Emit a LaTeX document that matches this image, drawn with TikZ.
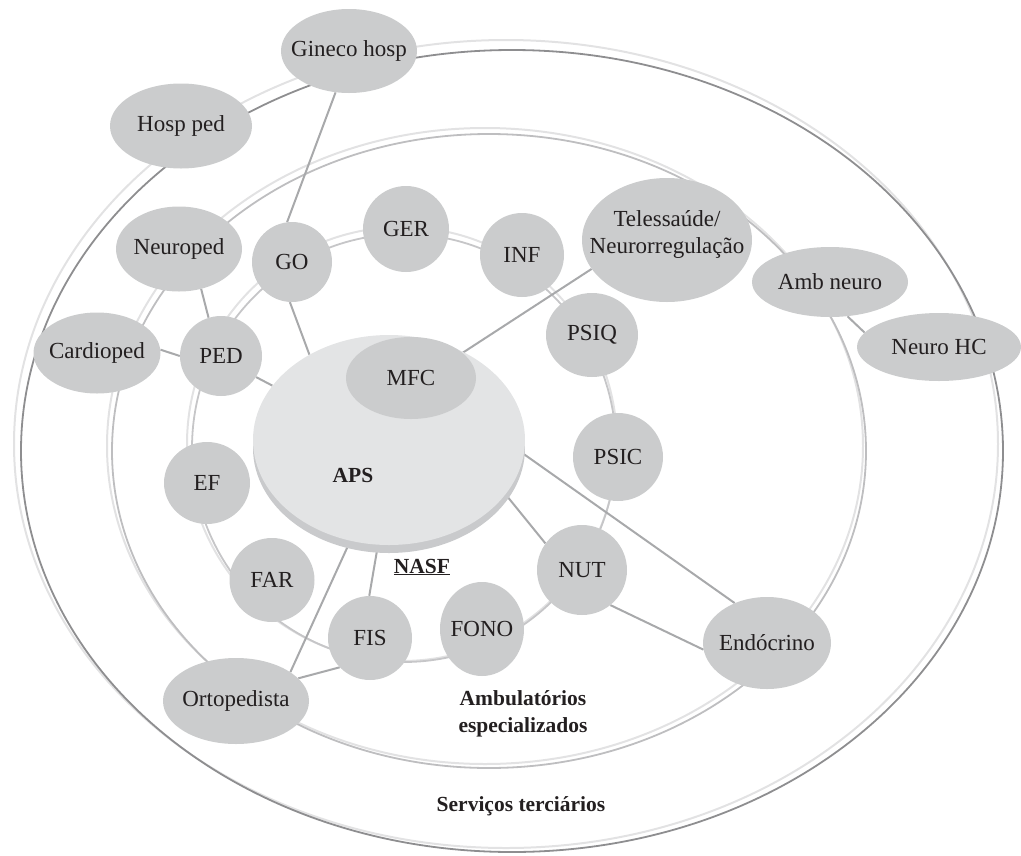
\documentclass[tikz,border=0pt]{standalone}
\usepackage{fontspec}
\setmainfont{Liberation Serif}
\usetikzlibrary{shapes.geometric,shadows}
\definecolor{nodefill}{HTML}{CBCCCD}
\definecolor{apsfill}{HTML}{E3E4E5}
\definecolor{apsshade}{HTML}{C9CACC}
\definecolor{linkcol}{HTML}{A8A9AB}
\definecolor{ringlight}{HTML}{E2E2E3}
\definecolor{outerdark}{HTML}{8E8E90}
\definecolor{middark}{HTML}{BEBEC0}
\definecolor{innerdark}{HTML}{C6C6C8}
\definecolor{txt}{HTML}{231F20}
\pgfdeclarelayer{bg}
\pgfsetlayers{bg,main}
\begin{document}
\begin{tikzpicture}[x=1pt,y=-1pt,
  unitfont/.style={font=\fontsize{23}{28}\selectfont, text=txt},
  unit/.style={ellipse, fill=nodefill, inner sep=0pt,
    label={[unitfont, align=center, inner sep=0pt]center:#1}},
  link/.style={draw=linkcol, line width=2pt},
  lbl/.style={font=\fontsize{21.5}{27}\selectfont\bfseries, align=center, text=txt, inner sep=0pt},
  ringlt/.style={draw=ringlight, line width=2pt},
  ringouter/.style={draw=outerdark, line width=1.8pt},
  ringmid/.style={draw=middark, line width=1.8pt},
  ringinner/.style={draw=innerdark, line width=1.8pt}]
\useasboundingbox (0,0) rectangle (1021,855);

% central APS
\node[ellipse, fill=apsfill, inner sep=0pt, minimum width=272pt, minimum height=210pt,
  drop shadow={shadow xshift=0pt, shadow yshift=-8pt, fill=apsshade, opacity=1}] (aps) at (389,440) {};
\node[unit={MFC}, minimum width=130pt, minimum height=82pt] (mfc) at (411,378) {};
\node[lbl] (apslbl) at (353,475) {APS};
\node[lbl] (nasf) at (422,567) {\underline{NASF}};

% NASF ring
\node[unit={GO}, minimum width=80pt, minimum height=80pt] (go) at (292,262) {};
\node[unit={GER}, minimum width=86pt, minimum height=86pt] (ger) at (406,229) {};
\node[unit={INF}, minimum width=84pt, minimum height=84pt] (inf) at (522,255) {};
\node[unit={PSIQ}, minimum width=92pt, minimum height=84pt] (psiq) at (592,335) {};
\node[unit={PSIC}, minimum width=90pt, minimum height=88pt] (psic) at (618,457) {};
\node[unit={NUT}, minimum width=90pt, minimum height=90pt] (nut) at (582,570) {};
\node[unit={FONO}, minimum width=84pt, minimum height=94pt] (fono) at (482,629) {};
\node[unit={FIS}, minimum width=84pt, minimum height=84pt] (fis) at (370,638) {};
\node[unit={FAR}, minimum width=85pt, minimum height=84pt] (far) at (272,580) {};
\node[unit={EF}, minimum width=86pt, minimum height=82pt] (ef) at (207,483) {};
\node[unit={PED}, minimum width=82pt, minimum height=80pt] (ped) at (221,356) {};

% specialized ring
\node[unit={Neuroped}, minimum width=126pt, minimum height=85pt] (neuroped) at (179,249) {};
\node[unit={Cardioped}, minimum width=127pt, minimum height=81pt] (cardioped) at (97,353) {};
\node[ellipse, fill=nodefill, inner sep=0pt, minimum width=170pt, minimum height=124pt,
  label={[unitfont, align=center, inner sep=0pt, yshift=6pt]center:Telessaúde/\\[-1pt]Neurorregulação}] (tele) at (667,240) {};
\node[unit={Amb neuro}, minimum width=156pt, minimum height=70pt] (ambneuro) at (830,282) {};
\node[unit={Endócrino}, minimum width=128pt, minimum height=92pt] (endo) at (767,643) {};
\node[unit={Ortopedista}, minimum width=146pt, minimum height=86pt] (orto) at (236,701) {};

% tertiary ring
\node[unit={Gineco hosp}, minimum width=136pt, minimum height=84pt] (gineco) at (349,51) {};
\node[unit={Hosp ped}, minimum width=142pt, minimum height=85pt] (hospped) at (181,126) {};
\node[unit={Neuro HC}, minimum width=164pt, minimum height=68pt] (neurohc) at (939,347) {};

\node[lbl] (amb) at (523,714) {Ambulatórios\\especializados};
\node[lbl] (serv) at (521,806) {Serviços terciários};

\begin{pgfonlayer}{bg}
  % rings
  \draw[ringlt] (506,444) ellipse [x radius=492, y radius=404];
  \draw[ringouter] (512,451) ellipse [x radius=491, y radius=401];
  \draw[ringlt] (485,446) ellipse [x radius=378, y radius=318];
  \draw[ringmid] (489,451) ellipse [x radius=377, y radius=317];
  \draw[ringlt] (402,444) ellipse [x radius=215, y radius=217];
  \draw[ringinner] (404,448) ellipse [x radius=212, y radius=214];
  % connectors
  \draw[link] (gineco.252) -- (go.97);
  \draw[link] (go.267) -- (aps.133);
  \draw[link] (neuroped.299) -- (ped.108);
  \draw[link] (cardioped.3) -- (ped.180);
  \draw[link] (ped.329) -- (aps.155);
  \draw[link] (tele.201) -- (mfc.26);
  \draw[link] (ambneuro.297) -- (neurohc.169);
  \draw[link] (aps.354) -- (endo.129);
  \draw[link] (aps.335) -- (nut.144);
  \draw[link] (nut.309) -- (endo.186);
  \draw[link] (aps.264) -- (fis.91);
  \draw[link] (aps.249) -- (orto.28);
  \draw[link] (fis.224) -- (orto.20);
\end{pgfonlayer}
\end{tikzpicture}
\end{document}
